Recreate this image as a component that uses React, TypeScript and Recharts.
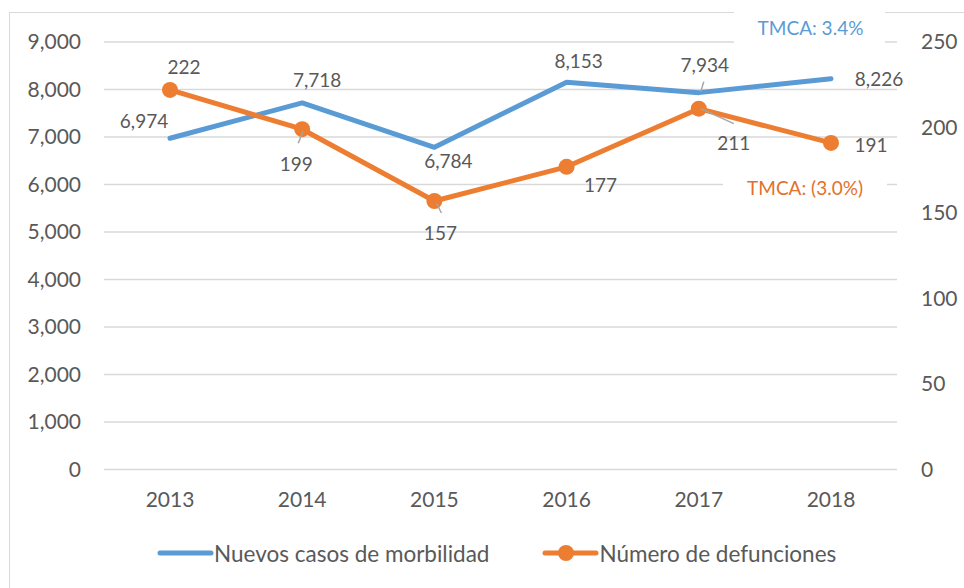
import React from 'react';
import { LineChart, Line, XAxis, YAxis, CartesianGrid, Legend, LabelList } from 'recharts';

const years = ['2013', '2014', '2015', '2016', '2017', '2018'];
const morbilidad = [6974, 7718, 6784, 8153, 7934, 8226];
const defunciones = [222, 199, 157, 177, 211, 191];
const leftTicks = [0, 1000, 2000, 3000, 4000, 5000, 6000, 7000, 8000, 9000];
const rightTicks = [0, 50, 100, 150, 200, 250];
const seriesNames = ['Nuevos casos de morbilidad', 'Número de defunciones'];
const tmcaLabels = ['TMCA: 3.4%', 'TMCA: (3.0%)'];

const BLUE = '#5B9BD5';
const ORANGE = '#ED7D31';
const TEXT = '#595959';
const GRID = '#D9D9D9';
const FONT = 'Lato, "Open Sans", sans-serif';

// label placement relative to each point (dx, dy), plus optional leader line
const blueOffsets = [[-26, -18], [15, -23], [14, 13], [12, -22], [6, -28], [48, 0]];
const orangeOffsets = [[14, -23], [-6, 34], [6, 31], [34, 18], [35, 34], [40, 2]];
const blueLeaders: Record<number, number[]> = { 4: [5, -11, 2, -1] };
const orangeLeaders: Record<number, number[]> = { 1: [-4, 14, 1, 2], 2: [2, 2, 7, 12], 4: [2, 0, 35, 15] };

const data = years.map((year, i) => ({
  year,
  morbilidad: morbilidad[i],
  defunciones: defunciones[i],
}));

const fmt = (v: number) => v.toLocaleString('en-US');

const makeLabel = (offsets: number[][], leaders: Record<number, number[]>) => (props: any) => {
  const { x, y, value, index } = props;
  const [dx, dy] = offsets[index];
  const leader = leaders[index];
  return (
    <g>
      {leader && (
        <line
          x1={x + leader[0]}
          y1={y + leader[1]}
          x2={x + leader[2]}
          y2={y + leader[3]}
          stroke="#A6A6A6"
          strokeWidth={1.5}
        />
      )}
      <text
        x={x + dx}
        y={y + dy}
        textAnchor="middle"
        dominantBaseline="central"
        fill={TEXT}
        fontSize={19}
        fontFamily={FONT}
      >
        {fmt(value)}
      </text>
    </g>
  );
};

const renderLegend = () => (
  <div style={{ display: 'flex', alignItems: 'center', height: 30, paddingLeft: 157, fontFamily: FONT, fontSize: 22.5, color: TEXT }}>
    <svg width={57} height={16}>
      <line x1={3} y1={8} x2={54} y2={8} stroke={BLUE} strokeWidth={5} strokeLinecap="round" />
    </svg>
    <span>{seriesNames[0]}</span>
    <svg width={57} height={18} style={{ marginLeft: 53 }}>
      <line x1={3} y1={9} x2={54} y2={9} stroke={ORANGE} strokeWidth={5} strokeLinecap="round" />
      <circle cx={24} cy={9} r={8} fill={ORANGE} />
    </svg>
    <span>{seriesNames[1]}</span>
  </div>
);

export default function App() {
  return (
    <div style={{ position: 'fixed', left: 0, top: 0, width: 964, height: 588, overflow: 'hidden', background: '#fff', fontFamily: FONT }}>
      <div style={{ position: 'absolute', left: 9, top: 12, width: 1100, height: 1100, border: `1px solid ${GRID}` }} />
      <LineChart width={964} height={588} data={data} margin={{ top: 42, right: 0, bottom: 20, left: 0 }}>
        <CartesianGrid vertical={false} stroke={GRID} strokeWidth={1.5} yAxisId="left" />
        <XAxis
          dataKey="year"
          axisLine={false}
          tickLine={false}
          height={68.5}
          tickMargin={17}
          padding={{ left: 66, right: 66 }}
          tick={{ fill: TEXT, fontSize: 21, fontFamily: FONT }}
        />
        <YAxis
          yAxisId="left"
          width={104}
          domain={[0, 9000]}
          ticks={leftTicks}
          tickFormatter={fmt}
          axisLine={false}
          tickLine={false}
          tickMargin={17}
          tick={{ fill: TEXT, fontSize: 21, fontFamily: FONT }}
        />
        <YAxis
          yAxisId="right"
          orientation="right"
          width={67}
          domain={[0, 250]}
          ticks={rightTicks}
          axisLine={false}
          tickLine={false}
          tickMargin={18}
          tick={{ fill: TEXT, fontSize: 21, fontFamily: FONT }}
        />
        <Legend verticalAlign="bottom" content={renderLegend} />
        <Line
          yAxisId="left"
          dataKey="morbilidad"
          name={seriesNames[0]}
          stroke={BLUE}
          strokeWidth={5}
          strokeLinejoin="round"
          strokeLinecap="round"
          dot={false}
          activeDot={false}
          isAnimationActive={false}
        >
          <LabelList dataKey="morbilidad" content={makeLabel(blueOffsets, blueLeaders)} />
        </Line>
        <Line
          yAxisId="right"
          dataKey="defunciones"
          name={seriesNames[1]}
          stroke={ORANGE}
          strokeWidth={5}
          strokeLinejoin="round"
          strokeLinecap="round"
          dot={{ r: 8, fill: ORANGE, stroke: ORANGE, strokeWidth: 0 }}
          activeDot={false}
          isAnimationActive={false}
        >
          <LabelList dataKey="defunciones" content={makeLabel(orangeOffsets, orangeLeaders)} />
        </Line>
      </LineChart>
      <div style={{ position: 'absolute', left: 734, top: 5, width: 151, height: 45, background: '#fff', color: BLUE, fontSize: 19, display: 'flex', alignItems: 'center', justifyContent: 'center', paddingLeft: 2, boxSizing: 'border-box' }}>
        {tmcaLabels[0]}
      </div>
      <div style={{ position: 'absolute', left: 723, top: 170, width: 164, height: 34, background: '#fff', color: '#E2712C', fontSize: 19, display: 'flex', alignItems: 'center', justifyContent: 'center', boxSizing: 'border-box' }}>
        {tmcaLabels[1]}
      </div>
    </div>
  );
}
